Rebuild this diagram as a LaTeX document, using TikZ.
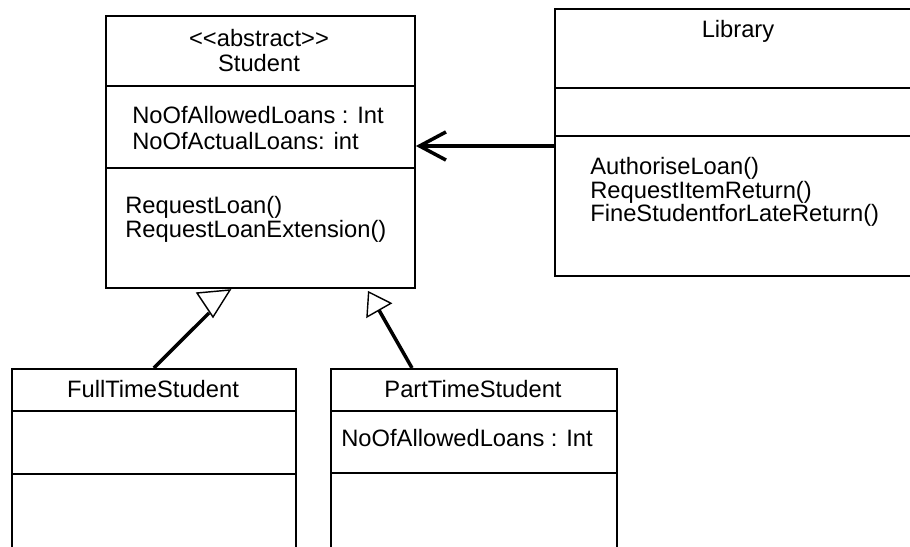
\documentclass[tikz,border=0pt]{standalone}
\usepackage{fontspec}
\setmainfont{Liberation Sans}[Ligatures=TeXOff]
\usetikzlibrary{arrows.meta,positioning,calc}

\tikzset{
  classbox/.style={draw, line width=1.1pt, rectangle, anchor=north west, inner sep=0pt},
  divider/.style={line width=0.9pt},
  member/.style={anchor=base west, align=left, inner sep=0pt, font=\fontsize{13.5}{15.5}\selectfont},
  title/.style={anchor=base, align=center, inner sep=0pt, font=\fontsize{13.5}{15}\selectfont},
  assoc/.style={line width=2pt, -{Straight Barb[length=15pt, width=16pt]}},
  gen/.style={line width=2pt, -{Triangle[open, length=13pt, width=17pt, line width=0.8pt]}},
}

\begin{document}
\begin{tikzpicture}[x=0.02cm, y=-0.02cm]
    \useasboundingbox (0,0) rectangle (910,547);
    \clip (0,0) rectangle (910,547);

    % Student
    \node[classbox, minimum width=6.18cm, minimum height=5.44cm] (student) at (105,15) {};
    \draw[divider] (student.west |- 0,86) -- (student.east |- 0,86);
    \draw[divider] (student.west |- 0,168) -- (student.east |- 0,168);
    \node[title, font=\fontsize{13.5}{14.7}\selectfont] (studentname) at (259,72) {<<abstract>>\\Student};
    \node[member, font=\fontsize{13.5}{15.3}\selectfont] (studentattr) at (132,150) {NoOfAllowedLoans : Int\\NoOfActualLoans: int};
    \node[member, font=\fontsize{13.5}{14.2}\selectfont] (studentops) at (125,238) {RequestLoan()\\RequestLoanExtension()};

    % Library
    \node[classbox, minimum width=8cm, minimum height=5.34cm] (library) at (554,8) {};
    \draw[divider] (library.west |- 0,88) -- (library.east |- 0,88);
    \draw[divider] (library.west |- 0,136) -- (library.east |- 0,136);
    \node[title] (libraryname) at (738,38) {Library};
    \node[member, font=\fontsize{13.5}{12.5}\selectfont] (libraryops) at (590,222) {AuthoriseLoan()\\RequestItemReturn()\\FineStudentforLateReturn()};

    % Subclasses
    \node[classbox, minimum width=5.68cm, minimum height=4.64cm] (full) at (11,368) {};
    \draw[divider] (full.west |- 0,411) -- (full.east |- 0,411);
    \draw[divider] (full.west |- 0,474) -- (full.east |- 0,474);
    \node[title] (fullname) at (153,398) {FullTimeStudent};

    \node[classbox, minimum width=5.72cm, minimum height=4.64cm] (part) at (330,368) {};
    \draw[divider] (part.west |- 0,411) -- (part.east |- 0,411);
    \draw[divider] (part.west |- 0,473) -- (part.east |- 0,473);
    \node[title] (partname) at (473,398) {PartTimeStudent};
    \node[member] (partattr) at (341,446) {NoOfAllowedLoans : Int};

    % Association
    \draw[assoc] (library.west |- 0,146) -- (student.east |- 0,146);

    % Generalisations
    \coordinate (tri) at (213,317);
    \draw[line width=2pt] (full.north) -- (209,313);
    \draw[line width=0.8pt, fill=white] (tri) -- ++(-16,-24) -- ++(33,-3) -- cycle;
    \draw[gen] ($(part.north west)+(82,0)$) -- ($(student.south west)+(263,2)$);
\end{tikzpicture}
\end{document}
